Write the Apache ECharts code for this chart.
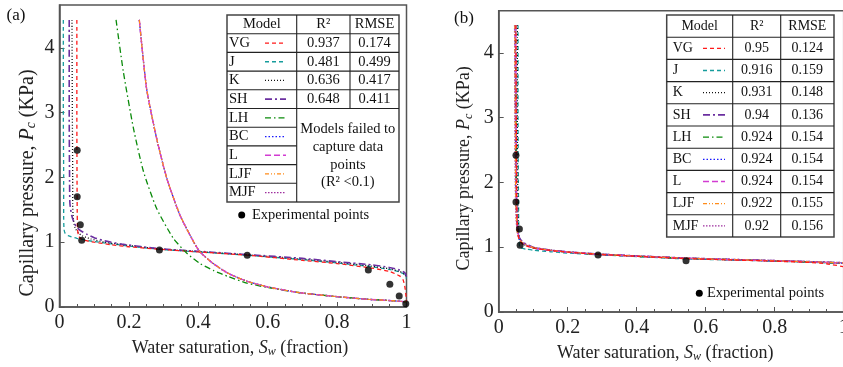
<!DOCTYPE html>
<html>
<head>
<meta charset="utf-8">
<script src="https://cdn.jsdelivr.net/npm/echarts@6/dist/echarts.min.js"></script>
<style>
  html, body { margin: 0; padding: 0; background: #fff; }
  #chart { width: 843px; height: 367px; }
</style>
</head>
<body>
<div id="chart"></div>
<script>
// experimental points [Sw, Pc]
const expA = [[0.051, 2.42], [0.051, 1.70], [0.060, 1.27], [0.064, 1.03], [0.288, 0.88],
  [0.541, 0.80], [0.890, 0.57], [0.952, 0.35], [0.979, 0.17], [0.998, 0.05]];
const expB = [[0.050, 2.42], [0.050, 1.70], [0.060, 1.28], [0.062, 1.03], [0.288, 0.88], [0.543, 0.79]];

// table content
const models = ['VG', 'J', 'K', 'SH', 'LH', 'BC', 'L', 'LJF', 'MJF'];
const r2A = ['0.937', '0.481', '0.636', '0.648'];
const rmseA = ['0.174', '0.499', '0.417', '0.411'];
const r2B = ['0.95', '0.916', '0.931', '0.94', '0.924', '0.924', '0.924', '0.922', '0.92'];
const rmseB = ['0.124', '0.159', '0.148', '0.136', '0.154', '0.154', '0.154', '0.155', '0.156'];
const failedNote = ['Models failed to', 'capture data', 'points', '(R\u00b2 <0.1)'];

// fitted curves, panel (a)
const aVG = [[0.050, 4.43], [0.050, 3.0], [0.0505, 2.0], [0.051, 1.5], [0.052, 1.2], [0.055, 1.1], [0.060, 1.06],
  [0.070, 1.03], [0.100, 1.0], [0.150, 0.96], [0.200, 0.93], [0.288, 0.89], [0.400, 0.85], [0.540, 0.80],
  [0.700, 0.72], [0.800, 0.67], [0.900, 0.60], [0.950, 0.55], [0.980, 0.48], [0.990, 0.42], [0.995, 0.32],
  [0.998, 0.20], [1.000, 0.08]];
const aJ = [[0.011, 4.43], [0.011, 3.0], [0.012, 2.0], [0.012, 1.4], [0.013, 1.2], [0.016, 1.14], [0.025, 1.10],
  [0.050, 1.06], [0.100, 1.01], [0.200, 0.94], [0.288, 0.89], [0.400, 0.85], [0.540, 0.80], [0.700, 0.73],
  [0.800, 0.68], [0.900, 0.62], [0.950, 0.58], [0.980, 0.54], [0.995, 0.50], [1.000, 0.44]];
const aK = [[0.036, 4.43], [0.037, 3.0], [0.038, 2.0], [0.038, 1.6], [0.040, 1.35], [0.045, 1.22], [0.055, 1.14],
  [0.065, 1.10], [0.090, 1.05], [0.130, 1.0], [0.200, 0.95], [0.288, 0.895], [0.400, 0.855], [0.540, 0.805],
  [0.700, 0.74], [0.800, 0.69], [0.900, 0.63], [0.950, 0.59], [0.980, 0.55], [0.995, 0.50], [1.000, 0.46]];
const aSH = [[0.028, 4.43], [0.028, 3.0], [0.029, 2.0], [0.030, 1.6], [0.035, 1.42], [0.042, 1.30], [0.050, 1.23],
  [0.060, 1.18], [0.080, 1.12], [0.100, 1.07], [0.130, 1.02], [0.180, 0.97], [0.288, 0.90], [0.400, 0.86],
  [0.540, 0.81], [0.700, 0.75], [0.800, 0.70], [0.900, 0.65], [0.950, 0.61], [0.980, 0.57], [0.995, 0.53],
  [1.000, 0.47]];
const aLH = [[0.163, 4.43], [0.184, 3.63], [0.213, 2.76], [0.242, 2.09], [0.280, 1.52], [0.328, 1.06],
  [0.367, 0.83], [0.405, 0.67], [0.445, 0.56], [0.486, 0.47], [0.540, 0.37], [0.600, 0.30], [0.693, 0.22],
  [0.800, 0.16], [0.885, 0.12], [0.950, 0.10], [1.000, 0.08]];
const aFailed = [[0.230, 4.43], [0.251, 3.37], [0.280, 2.60], [0.309, 1.99], [0.347, 1.42], [0.386, 1.01],
  [0.405, 0.85], [0.443, 0.67], [0.486, 0.52], [0.539, 0.40], [0.600, 0.31], [0.693, 0.22], [0.800, 0.16],
  [0.885, 0.12], [0.950, 0.10], [1.000, 0.08]];

// fitted curves, panel (b)
const bVG = [[0.050, 4.43], [0.051, 3.0], [0.052, 2.0], [0.053, 1.5], [0.055, 1.25], [0.058, 1.14], [0.065, 1.07],
  [0.080, 1.02], [0.100, 0.99], [0.150, 0.95], [0.200, 0.925], [0.288, 0.89], [0.400, 0.86], [0.540, 0.825],
  [0.700, 0.80], [0.800, 0.785], [0.900, 0.765], [0.950, 0.745], [1.000, 0.70]];
const bJ = [[0.056, 4.43], [0.056, 3.0], [0.057, 2.0], [0.058, 1.4], [0.059, 1.1], [0.061, 1.0], [0.065, 0.985],
  [0.080, 0.97], [0.100, 0.955], [0.150, 0.93], [0.200, 0.91], [0.288, 0.885], [0.400, 0.855], [0.540, 0.82],
  [0.700, 0.80], [0.800, 0.785], [0.900, 0.77], [1.000, 0.75]];
const bK = [[0.054, 4.43], [0.054, 3.0], [0.055, 2.0], [0.056, 1.5], [0.058, 1.2], [0.062, 1.10], [0.070, 1.05],
  [0.100, 0.99], [0.200, 0.925], [0.288, 0.89], [0.400, 0.86], [0.540, 0.828], [0.700, 0.803], [0.800, 0.788],
  [0.900, 0.773], [1.000, 0.755]];
const bSH = [[0.048, 4.43], [0.049, 3.0], [0.050, 2.0], [0.052, 1.5], [0.055, 1.25], [0.060, 1.15], [0.070, 1.08],
  [0.100, 1.0], [0.150, 0.955], [0.200, 0.93], [0.288, 0.895], [0.400, 0.867], [0.540, 0.833], [0.700, 0.808],
  [0.800, 0.793], [0.900, 0.778], [1.000, 0.76]];
const bLH = [[0.049, 4.43], [0.050, 3.0], [0.051, 2.0], [0.053, 1.5], [0.056, 1.22], [0.060, 1.12], [0.070, 1.06],
  [0.100, 0.99], [0.150, 0.95], [0.200, 0.925], [0.288, 0.89], [0.400, 0.862], [0.540, 0.83], [0.700, 0.805],
  [0.800, 0.79], [0.900, 0.775], [1.000, 0.755]];
const bLJF = [[0.047, 4.43], [0.048, 3.0], [0.049, 2.0], [0.051, 1.5], [0.054, 1.24], [0.059, 1.13], [0.070, 1.065],
  [0.100, 0.995], [0.150, 0.952], [0.200, 0.927], [0.288, 0.892], [0.400, 0.864], [0.540, 0.831], [0.700, 0.806],
  [0.800, 0.791], [0.900, 0.776], [1.000, 0.757]];
const bMJF = [[0.046, 4.43], [0.047, 3.0], [0.048, 2.0], [0.050, 1.5], [0.053, 1.26], [0.058, 1.15], [0.070, 1.07],
  [0.100, 1.0], [0.150, 0.956], [0.200, 0.93], [0.288, 0.896], [0.400, 0.868], [0.540, 0.835], [0.700, 0.81],
  [0.800, 0.795], [0.900, 0.78], [1.000, 0.762]];

const curvesA = {VG: aVG, J: aJ, K: aK, SH: aSH, LH: aLH, BC: aFailed, L: aFailed, LJF: aFailed, MJF: aFailed};
const curvesB = {VG: bVG, J: bJ, K: bK, SH: bSH, LH: bLH, BC: bLH, L: bLH, LJF: bLJF, MJF: bMJF};

const serif = 'Liberation Serif, Times New Roman, serif';
const styles = {
  VG: {color: '#ff1a1a', dash: [4, 3], width: 1.3},
  J: {color: '#169c9c', dash: [4, 3], width: 1.3},
  K: {color: '#111111', dash: [1, 2], width: 1.3},
  SH: {color: '#6b2fa0', dash: [7, 3, 2, 3], width: 1.6},
  LH: {color: '#0a8a0a', dash: [6, 3, 1.5, 3], width: 1.3},
  BC: {color: '#1a1aff', dash: [1.5, 2], width: 1.3},
  L: {color: '#d23cd2', dash: [6, 3], width: 1.4},
  LJF: {color: '#ff8c1a', dash: [4, 2, 1, 2, 1, 2], width: 1.2},
  MJF: {color: '#9e2f9e', dash: [1.5, 1.5], width: 1.3}
};
const drawOrderA = ['J', 'K', 'SH', 'VG', 'BC', 'MJF', 'LH', 'L', 'LJF'];
const drawOrderB = ['J', 'K', 'SH', 'BC', 'LH', 'MJF', 'L', 'LJF', 'VG'];

const chart = echarts.init(document.getElementById('chart'));

function xAxisFor(idx, padding) {
  return {
    gridIndex: idx, type: 'value', min: 0, max: 1, interval: 0.2,
    name: 'Water saturation, {i|S}{s|w} (fraction)',
    nameLocation: 'middle', nameGap: 31, nameMoveOverlap: false,
    nameTextStyle: {
      fontFamily: serif, fontSize: 18, color: '#222', lineHeight: 20, padding: padding,
      rich: {
        i: {fontFamily: serif, fontSize: 18, fontStyle: 'italic', lineHeight: 20, color: '#222'},
        s: {fontFamily: serif, fontSize: 12, fontStyle: 'italic', lineHeight: 8, verticalAlign: 'bottom', color: '#222'}
      }
    },
    axisLine: {lineStyle: {color: '#555', width: 1.5}},
    axisTick: {inside: true, length: 5, lineStyle: {color: '#555'}},
    minorTick: {show: true, splitNumber: 4, length: 3, lineStyle: {color: '#555'}},
    splitLine: {show: false},
    axisLabel: {fontFamily: serif, fontSize: 20, color: '#222', margin: 6}
  };
}

function yAxisFor(idx, max, fontSize, gap, padding) {
  return {
    gridIndex: idx, type: 'value', min: 0, max: max, interval: 1,
    name: 'Capillary pressure, {i|P}{s|c} (KPa)',
    nameLocation: 'middle', nameGap: gap, nameMoveOverlap: false,
    nameTextStyle: {
      fontFamily: serif, fontSize: fontSize, color: '#222', lineHeight: fontSize + 2, padding: padding,
      rich: {
        i: {fontFamily: serif, fontSize: fontSize, fontStyle: 'italic', lineHeight: fontSize + 2, color: '#222'},
        s: {fontFamily: serif, fontSize: fontSize * 0.68, fontStyle: 'italic', lineHeight: 8, verticalAlign: 'bottom', color: '#222'}
      }
    },
    axisLine: {lineStyle: {color: '#555', width: 1.5}},
    axisTick: {inside: true, length: 5, lineStyle: {color: '#555'}},
    splitLine: {show: false},
    axisLabel: {fontFamily: serif, fontSize: 20, color: '#222', margin: 5, showMaxLabel: false}
  };
}

const series = [];
function addCurves(curves, order, idx) {
  order.forEach((m) => {
    const st = styles[m];
    series.push({
      name: m + idx, type: 'line', xAxisIndex: idx, yAxisIndex: idx,
      data: curves[m], showSymbol: false, smooth: 0.2,
      lineStyle: {color: st.color, width: st.width, type: st.dash},
      silent: true
    });
  });
}
addCurves(curvesA, drawOrderA, 0);
addCurves(curvesB, drawOrderB, 1);
[expA, expB].forEach((pts, idx) => {
  series.push({
    name: 'exp' + idx, type: 'scatter', xAxisIndex: idx, yAxisIndex: idx,
    data: pts, symbol: 'circle', symbolSize: 7, itemStyle: {color: '#000'}, z: 10
  });
});

// tables drawn with graphic elements
const graphic = [];
function line(x1, y1, x2, y2, w, color, dash) {
  graphic.push({type: 'line', shape: {x1, y1, x2, y2}, style: {stroke: color || '#222', lineWidth: w || 1.1, lineDash: dash}, z: 100});
}
function text(x, y, str, align, size, font) {
  graphic.push({type: 'text', x, y, style: {text: str, fill: '#111', font: (size || 14) + 'px ' + (font || serif), align: align || 'center', verticalAlign: 'middle'}, z: 100});
}
function sample(m, x1, x2, y) {
  const st = styles[m];
  line(x1, y, x2, y, st.width, st.color, st.dash);
}

// panel (a) table
(function () {
  const L = 227, c1 = 296.7, c2 = 350, R = 399, T = 15, h = 18.7;
  graphic.push({type: 'rect', shape: {x: L, y: T, width: R - L, height: h * 10}, style: {fill: '#fff', stroke: '#444', lineWidth: 1.5}, z: 99});
  line(c1, T, c1, T + h * 10);
  line(c2, T, c2, T + h * 5);
  for (let i = 1; i <= 5; i++) line(L, T + h * i, R, T + h * i);
  for (let i = 6; i <= 9; i++) line(L, T + h * i, c1, T + h * i);
  text((L + c1) / 2, T + h / 2, 'Model', 'center', 14.5);
  text((c1 + c2) / 2, T + h / 2, 'R\u00b2', 'center', 14.5);
  text((c2 + R) / 2, T + h / 2, 'RMSE', 'center', 14.5);
  models.forEach((m, i) => {
    const y = T + h * (i + 1.5);
    text(L + 2, y, m, 'left', 14.5);
    sample(m, 265, 286, y);
    if (i < r2A.length) {
      text((c1 + c2) / 2, y, r2A[i], 'center', 14.5);
      text((c2 + R) / 2, y, rmseA[i], 'center', 14.5);
    }
  });
  failedNote.forEach((s, i) => text((c1 + R) / 2, 129.5 + i * 17.7, s, 'center', 14.5));
  graphic.push({type: 'circle', shape: {cx: 241.7, cy: 215, r: 3.5}, style: {fill: '#000'}, z: 100});
  text(252, 215, 'Experimental points', 'left', 14.5);
})();

// panel (b) table
(function () {
  const L = 666.7, c1 = 732.7, c2 = 780.7, R = 834, T = 15, h = 22.2;
  graphic.push({type: 'rect', shape: {x: L, y: T, width: R - L, height: h * 10}, style: {fill: '#fff', stroke: '#444', lineWidth: 1.5}, z: 99});
  line(c1, T, c1, T + h * 10);
  line(c2, T, c2, T + h * 10);
  for (let i = 1; i <= 9; i++) line(L, T + h * i, R, T + h * i);
  text((L + c1) / 2, T + h / 2, 'Model', 'center', 14);
  text((c1 + c2) / 2, T + h / 2, 'R\u00b2', 'center', 14);
  text((c2 + R) / 2, T + h / 2, 'RMSE', 'center', 14);
  models.forEach((m, i) => {
    const y = T + h * (i + 1.5);
    text(L + 6, y, m, 'left', 14);
    sample(m, 703, 725, y);
    text((c1 + c2) / 2, y, r2B[i], 'center', 14);
    text((c2 + R) / 2, y, rmseB[i], 'center', 14);
  });
  graphic.push({type: 'circle', shape: {cx: 699.3, cy: 293.3, r: 3.5}, style: {fill: '#000'}, z: 100});
  text(707, 293.3, 'Experimental points', 'left', 14.5);
})();

text(16, 16, '(a)', 'center', 17);
text(464, 19, '(b)', 'center', 17);

const option = {
  animation: false,
  backgroundColor: '#fff',
  grid: [
    {left: 59.5, top: 5, width: 347, height: 302, show: true, borderColor: '#555', borderWidth: 1.5,
      backgroundColor: 'transparent', containLabel: false, outerBoundsMode: 'none'},
    {left: 498.7, top: 10.7, width: 345, height: 301.3, show: true, borderColor: '#555', borderWidth: 1.5,
      backgroundColor: 'transparent', containLabel: false, outerBoundsMode: 'none'}
  ],
  xAxis: [xAxisFor(0, [0, 0, 0, 14]), xAxisFor(1, [0, 12, 0, 0])],
  yAxis: [yAxisFor(0, 4.66, 20, 21, [0, 54, 0, 0]), yAxisFor(1, 4.653, 18, 24, [0, 14, 0, 0])],
  series: series,
  graphic: graphic
};
chart.setOption(option);
</script>
</body>
</html>
